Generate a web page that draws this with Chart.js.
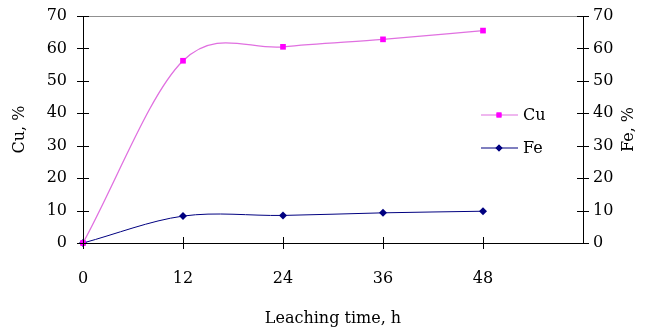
<!DOCTYPE html>
<html>
<head>
<meta charset="utf-8">
<script src="https://cdn.jsdelivr.net/npm/chart.js@4"></script>
<style>
  html, body { margin: 0; padding: 0; background: #fff; }
  #wrap { width: 654px; height: 331px; }
</style>
</head>
<body>
<div id="wrap"><canvas id="leachChart" width="654" height="331"></canvas></div>
<script>
const hours = [0, 12, 24, 36, 48];
const cuValues = [0, 56.2, 60.5, 62.8, 65.5];
const feValues = [0, 8.3, 8.5, 9.3, 9.8];
const xTicks = [0, 12, 24, 36, 48];
const yTicks = [0, 10, 20, 30, 40, 50, 60, 70];

const serif = "'DejaVu Serif', 'Liberation Serif', serif";
const fontSize = 16;
const cuColor = '#ff00ff';
const cuLine = '#e070e0';
const feColor = '#000080';

function toPoints(vals) {
  return hours.map((h, i) => ({ x: h, y: vals[i] }));
}

// Excel-like smoothing: Catmull-Rom control points on the pixel positions
const smoothing = {
  id: 'smoothing',
  beforeDatasetsDraw(chart) {
    chart.getSortedVisibleDatasetMetas().forEach(meta => {
      const pts = meta.data;
      const n = pts.length;
      for (let i = 0; i < n; i++) {
        const p = pts[i];
        const prev = pts[Math.max(i - 1, 0)];
        const next = pts[Math.min(i + 1, n - 1)];
        let k = 1 / 6;
        if (i === 0 || i === n - 1) k = 1 / 3;
        const dx = (next.x - prev.x) * k;
        const dy = (next.y - prev.y) * k;
        p.cp1x = p.x - dx; p.cp1y = p.y - dy;
        p.cp2x = p.x + dx; p.cp2y = p.y + dy;
      }
      if (meta.dataset) {
        meta.dataset._pointsUpdated = true;
        meta.dataset._path = undefined;
      }
    });
  }
};

// tick marks crossing the axes, legend and right title
const extras = {
  id: 'extras',
  afterDraw(chart) {
    const ctx = chart.ctx;
    const xs = chart.scales.x, yl = chart.scales.y, yr = chart.scales.y2;
    const area = chart.chartArea;
    ctx.save();
    ctx.strokeStyle = '#000';
    ctx.lineWidth = 1;
    ctx.beginPath();
    xTicks.forEach(v => {
      const px = Math.round(xs.getPixelForValue(v)) + 0.5;
      ctx.moveTo(px, area.bottom - 6);
      ctx.lineTo(px, area.bottom + 6);
    });
    yTicks.forEach(v => {
      const py = Math.round(yl.getPixelForValue(v)) + 0.5;
      ctx.moveTo(area.left - 6, py);
      ctx.lineTo(area.left + 6, py);
      const pr = Math.round(yr.getPixelForValue(v)) + 0.5;
      ctx.moveTo(area.right - 6, pr);
      ctx.lineTo(area.right + 6, pr);
    });
    ctx.stroke();

    // legend
    const items = [
      { label: 'Cu', line: cuLine, color: cuColor, style: 'rect', y: 115 },
      { label: 'Fe', line: feColor, color: feColor, style: 'rectRot', y: 148 }
    ];
    ctx.font = fontSize + 'px ' + serif;
    ctx.textBaseline = 'middle';
    items.forEach(it => {
      ctx.strokeStyle = it.line;
      ctx.lineWidth = 1.2;
      ctx.beginPath();
      ctx.moveTo(481, it.y);
      ctx.lineTo(518, it.y);
      ctx.stroke();
      ctx.fillStyle = it.color;
      Chart.helpers.drawPoint(ctx, { pointStyle: it.style, radius: 3.5, rotation: 0, borderWidth: 0 }, 499, it.y);
      ctx.fill();
      ctx.fillStyle = '#000';
      ctx.fillText(it.label, 523, it.y + 1);
    });

    // right axis title, reading bottom to top
    ctx.save();
    ctx.translate(629, (area.top + area.bottom) / 2);
    ctx.rotate(-Math.PI / 2);
    ctx.textAlign = 'center';
    ctx.textBaseline = 'middle';
    ctx.font = fontSize + 'px ' + serif;
    ctx.fillText('Fe, %', 0, 0);
    ctx.restore();
    ctx.restore();
  }
};

new Chart(document.getElementById('leachChart').getContext('2d'), {
  type: 'line',
  data: {
    datasets: [
      {
        label: 'Cu',
        data: toPoints(cuValues),
        yAxisID: 'y',
        borderColor: cuLine,
        backgroundColor: cuColor,
        borderWidth: 1.3,
        pointStyle: 'rect',
        pointRadius: 4,
        pointBorderWidth: 0,
        tension: 0.4,
        clip: false
      },
      {
        label: 'Fe',
        data: toPoints(feValues),
        yAxisID: 'y2',
        borderColor: feColor,
        backgroundColor: feColor,
        borderWidth: 1,
        pointStyle: 'rectRot',
        pointRadius: 4,
        pointBorderWidth: 0,
        tension: 0.4,
        clip: false
      }
    ]
  },
  plugins: [smoothing, extras],
  options: {
    responsive: false,
    animation: false,
    layout: { padding: { top: 16, right: 0, bottom: 0, left: 0 } },
    plugins: {
      legend: { display: false },
      tooltip: { enabled: false }
    },
    scales: {
      x: {
        type: 'linear',
        min: 0,
        max: 60,
        afterBuildTicks: s => { s.ticks = xTicks.map(v => ({ value: v })); },
        afterFit: s => { s.height = 88; },
        border: { color: '#000', width: 1 },
        grid: { drawOnChartArea: false, drawTicks: false },
        ticks: { color: '#000', padding: 26, maxRotation: 0, font: { family: serif, size: fontSize } },
        title: { display: true, text: 'Leaching time, h', color: '#000', padding: { top: 0, bottom: 3 }, font: { family: serif, size: fontSize } }
      },
      y: {
        position: 'left',
        min: 0,
        max: 70,
        afterBuildTicks: s => { s.ticks = yTicks.map(v => ({ value: v })); },
        afterFit: s => { s.width = 83; s.paddingTop = 0; s.paddingBottom = 0; },
        border: { color: '#000', width: 1 },
        grid: {
          drawTicks: false,
          color: ctx => (ctx.tick && ctx.tick.value === 70 ? '#909090' : 'rgba(0,0,0,0)')
        },
        ticks: { color: '#000', padding: 16, font: { family: serif, size: fontSize } },
        title: { display: true, text: 'Cu, %', color: '#000', padding: { top: 10, bottom: 0 }, font: { family: serif, size: fontSize } }
      },
      y2: {
        position: 'right',
        min: 0,
        max: 70,
        afterBuildTicks: s => { s.ticks = yTicks.map(v => ({ value: v })); },
        afterFit: s => { s.width = 71; s.paddingTop = 0; s.paddingBottom = 0; },
        border: { color: '#000', width: 1 },
        grid: { drawOnChartArea: false, drawTicks: false },
        ticks: { color: '#000', padding: 10, font: { family: serif, size: fontSize } }
      }
    }
  }
});
</script>
</body>
</html>
